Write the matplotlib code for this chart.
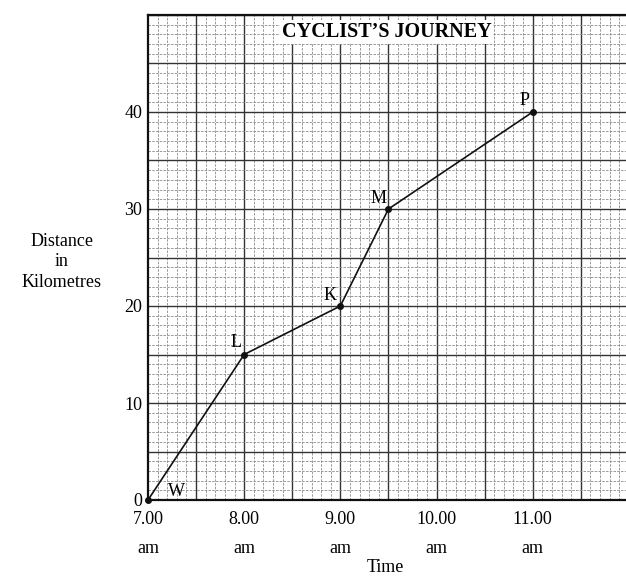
import matplotlib
matplotlib.use("Agg")
import matplotlib.pyplot as plt
import numpy as np
from matplotlib.ticker import MultipleLocator

# Data
times = [7.0, 8.0, 9.0, 9.5, 11.0]
distances = [0, 15, 20, 30, 40]
point_labels = ["W", "L", "K", "M", "P"]
xtick_vals = [7, 8, 9, 10, 11]
xtick_labels = ["7.00\nam", "8.00\nam", "9.00\nam", "10.00\nam", "11.00\nam"]
ytick_vals = [0, 10, 20, 30, 40]
title = "CYCLIST\u2019S JOURNEY"

plt.rcParams['font.family'] = ['Liberation Serif', 'DejaVu Serif']

W, H = 626, 577
fig = plt.figure(figsize=(W / 100, H / 100), dpi=100)
left, right, bottom, top = 148, 626, 500, 15
ax = fig.add_axes([left / W, 1 - bottom / H, (right - left) / W, (bottom - top) / H])
ax.set_xlim(7, 11.97)
ax.set_ylim(0, 50)

# graph paper grid
for xv in np.arange(7.1, 12.0, 0.1):
    if abs(round(xv * 2) - xv * 2) < 1e-6:
        ax.axvline(xv, color='#333333', lw=1.0, zorder=1)
    else:
        ax.axvline(xv, color='#8a8a8a', lw=0.6, ls=(0, (3, 1.5)), zorder=1)
for yv in range(1, 51):
    if yv % 5 == 0:
        ax.axhline(yv, color='#333333', lw=1.0, zorder=1)
    else:
        ax.axhline(yv, color='#8a8a8a', lw=0.6, ls=(0, (3, 1.5)), zorder=1)

for s in ['left', 'bottom', 'top']:
    ax.spines[s].set_linewidth(1.6)
    ax.spines[s].set_color('#111111')
ax.spines['right'].set_visible(False)

ax.plot(times, distances, color='#111111', lw=1.2, marker='o', ms=4, zorder=5, clip_on=False)

offsets = {"W": (0.30, 0.0), "L": (-0.09, 0.4), "K": (-0.11, 0.2), "M": (-0.10, 0.2), "P": (-0.08, 0.3)}
for t, d, lab in zip(times, distances, point_labels):
    dx, dy = offsets[lab]
    ax.text(t + dx, d + dy, lab, fontsize=13, ha='center', va='bottom', zorder=6)

ax.set_xticks(xtick_vals)
ax.set_xticklabels(xtick_labels, fontsize=13, linespacing=1.9)
ax.set_yticks(ytick_vals)
ax.set_yticklabels([str(v) for v in ytick_vals], fontsize=13)
ax.tick_params(axis='both', which='both', length=0, pad=4)
ax.tick_params(axis='x', pad=8)

ax.text(9.48, 48.2, title, fontsize=14.5, fontweight='bold', ha='center', va='center',
        bbox=dict(facecolor='white', edgecolor='none', pad=1.5), zorder=7)

fig.text(385 / W, 1 - 567 / H, "Time", fontsize=13, ha='center', va='center')
fig.text(62 / W, 1 - 262 / H, "Distance\nin\nKilometres", fontsize=13, ha='center', va='center',
         linespacing=1.25)

fig.savefig("out.png", dpi=100)
